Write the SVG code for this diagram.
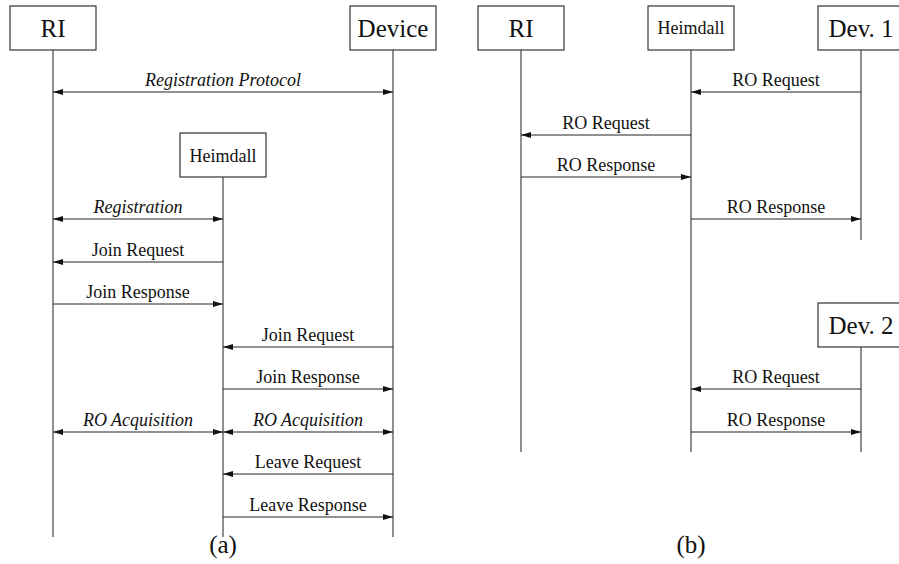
<svg xmlns="http://www.w3.org/2000/svg" width="899" height="564" viewBox="0 0 899 564">
<defs>
<marker id="ah" viewBox="0 0 10 6" refX="10" refY="3" markerWidth="10" markerHeight="6" markerUnits="userSpaceOnUse" orient="auto-start-reverse">
<path d="M0,0 L10,3 L0,6 z" fill="#111"/>
</marker>
</defs>
<style>
.box{fill:#fff;stroke:#333;stroke-width:1.2}
.life{stroke:#333;stroke-width:1.1;fill:none}
.msg{stroke:#222;stroke-width:1;fill:none;marker-end:url(#ah)}
.dbl{marker-start:url(#ah)}
text{font-family:"Liberation Serif","Times New Roman",serif;fill:#111;text-anchor:middle}
.big{font-size:25px}
.mid{font-size:18px}
.lbl{font-size:18px}
.it{font-style:italic}
</style>
<rect width="899" height="564" fill="#fff"/>

<g id="lifelines">
<line class="life" x1="53" y1="50" x2="53" y2="537"/>
<line class="life" x1="393" y1="50" x2="393" y2="537"/>
<line class="life" x1="223" y1="177" x2="223" y2="537"/>
<line class="life" x1="521" y1="50" x2="521" y2="452"/>
<line class="life" x1="691" y1="50" x2="691" y2="452"/>
<line class="life" x1="861" y1="50" x2="861" y2="240"/>
<line class="life" x1="861" y1="347" x2="861" y2="452"/>
</g>

<g id="a-RI"><rect class="box" x="10" y="6" width="86" height="44"/><text class="big" x="53" y="37">RI</text></g>
<g id="a-Device"><rect class="box" x="350" y="6" width="86" height="44"/><text class="big" x="393" y="37">Device</text></g>
<g id="a-Heimdall"><rect class="box" x="180" y="133" width="86" height="44"/><text class="mid" x="223" y="162">Heimdall</text></g>

<g id="b-RI"><rect class="box" x="478" y="6" width="86" height="44"/><text class="big" x="521" y="37">RI</text></g>
<g id="b-Heimdall"><rect class="box" x="648" y="6" width="86" height="44"/><text class="mid" x="691" y="34">Heimdall</text></g>
<g id="b-Dev1"><rect class="box" x="818" y="6" width="86" height="44"/><text class="big" x="861" y="37">Dev. 1</text></g>
<g id="b-Dev2"><rect class="box" x="818" y="303" width="86" height="44"/><text class="big" x="861" y="334">Dev. 2</text></g>

<g id="connectors">
<line class="msg dbl" x1="53" y1="92" x2="393" y2="92"/>
<line class="msg dbl" x1="53" y1="219" x2="223" y2="219"/>
<line class="msg" x1="223" y1="262" x2="53" y2="262"/>
<line class="msg" x1="53" y1="304" x2="223" y2="304"/>
<line class="msg" x1="393" y1="347" x2="223" y2="347"/>
<line class="msg" x1="223" y1="389" x2="393" y2="389"/>
<line class="msg dbl" x1="53" y1="432" x2="223" y2="432"/>
<line class="msg dbl" x1="223" y1="432" x2="393" y2="432"/>
<line class="msg" x1="393" y1="474" x2="223" y2="474"/>
<line class="msg" x1="223" y1="517" x2="393" y2="517"/>

<line class="msg" x1="861" y1="92" x2="691" y2="92"/>
<line class="msg" x1="691" y1="135" x2="521" y2="135"/>
<line class="msg" x1="521" y1="177" x2="691" y2="177"/>
<line class="msg" x1="691" y1="219" x2="861" y2="219"/>
<line class="msg" x1="861" y1="389" x2="691" y2="389"/>
<line class="msg" x1="691" y1="432" x2="861" y2="432"/>
</g>

<g id="labels">
<text class="lbl it" x="223" y="86">Registration Protocol</text>
<text class="lbl it" x="138" y="213">Registration</text>
<text class="lbl" x="138" y="256">Join Request</text>
<text class="lbl" x="138" y="298">Join Response</text>
<text class="lbl" x="308" y="341">Join Request</text>
<text class="lbl" x="308" y="383">Join Response</text>
<text class="lbl it" x="138" y="426">RO Acquisition</text>
<text class="lbl it" x="308" y="426">RO Acquisition</text>
<text class="lbl" x="308" y="468">Leave Request</text>
<text class="lbl" x="308" y="511">Leave Response</text>

<text class="lbl" x="776" y="86">RO Request</text>
<text class="lbl" x="606" y="129">RO Request</text>
<text class="lbl" x="606" y="171">RO Response</text>
<text class="lbl" x="776" y="213">RO Response</text>
<text class="lbl" x="776" y="383">RO Request</text>
<text class="lbl" x="776" y="426">RO Response</text>

<text class="big" x="223" y="553">(a)</text>
<text class="big" x="691" y="553">(b)</text>
</g>
</svg>
